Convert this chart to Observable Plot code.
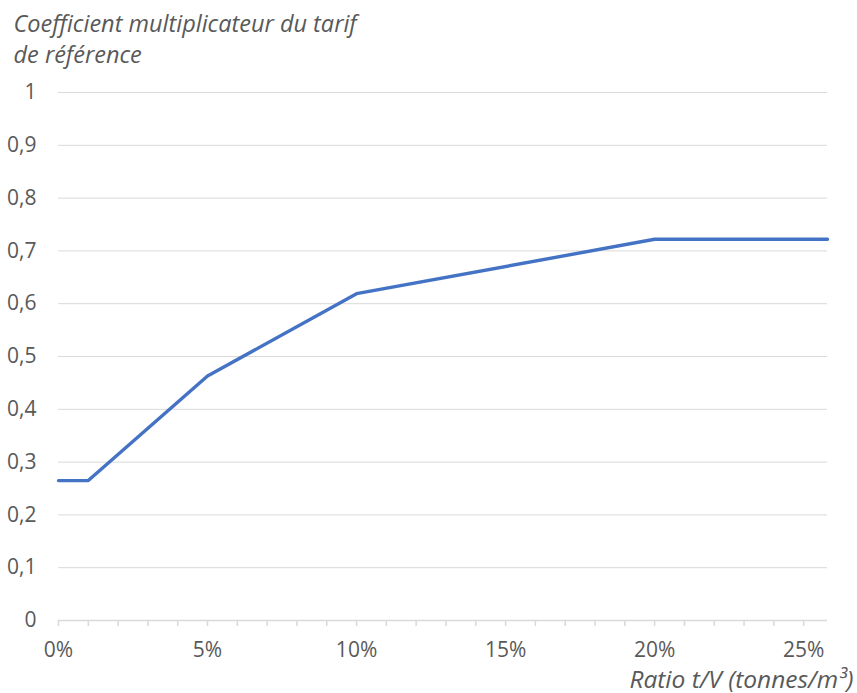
<!DOCTYPE html>
<html><head><meta charset="utf-8">
<script src="https://cdn.jsdelivr.net/npm/d3@7"></script>
<script src="https://cdn.jsdelivr.net/npm/@observablehq/plot@0.6"></script>
<style>body{margin:0;background:#fff;} svg{display:block}</style>
</head><body><div id="chart"></div>
<script>
const ratio = [0, 0.01, 0.05, 0.10, 0.20, 0.258];
const coef = [0.265, 0.265, 0.463, 0.619, 0.722, 0.722];
const xMajorTicks = [0, 0.05, 0.10, 0.15, 0.20, 0.25];
const xTickLabels = ["0%", "5%", "10%", "15%", "20%", "25%"];
const xMinorTicks = [0, 0.01, 0.02, 0.03, 0.04, 0.05, 0.06, 0.07, 0.08, 0.09, 0.10, 0.11, 0.12, 0.13, 0.14, 0.15, 0.16, 0.17, 0.18, 0.19, 0.20, 0.21, 0.22, 0.23, 0.24, 0.25];
const yTicks = [0, 0.1, 0.2, 0.3, 0.4, 0.5, 0.6, 0.7, 0.8, 0.9, 1];
const yTickLabels = ["0", "0,1", "0,2", "0,3", "0,4", "0,5", "0,6", "0,7", "0,8", "0,9", "1"];
const yTitle = ["Coefficient multiplicateur du tarif", "de référence"];
const xTitle = "Ratio t/V (tonnes/m³)";

const data = ratio.map((r, i) => ({ratio: r, coef: coef[i]}));
const grey = "#d9d9d9";
const textColor = "#595959";

const chart = Plot.plot({
  width: 857,
  height: 693,
  marginLeft: 58,
  marginRight: 30,
  marginTop: 92,
  marginBottom: 73,
  style: {fontFamily: "'Open Sans', sans-serif", fontSize: "21px", color: textColor, background: "#fff"},
  x: {domain: [0, 0.258]},
  y: {domain: [0, 1]},
  marks: [
    Plot.ruleY(yTicks.filter(d => d > 0), {stroke: grey, strokeWidth: 1}),
    Plot.ruleY([0], {stroke: grey, strokeWidth: 1.5}),
    Plot.axisX(xMinorTicks, {tickSize: 6, stroke: grey, strokeWidth: 1.5, tickFormat: () => "", label: null}),
    Plot.axisX(xMajorTicks, {tickSize: 0, tickPadding: 22, tickFormat: d => xTickLabels[xMajorTicks.indexOf(d)], label: null, fill: textColor, fontSize: 21}),
    Plot.axisY(yTicks, {tickSize: 0, tickPadding: 22, tickFormat: d => yTickLabels[yTicks.indexOf(d)], label: null, fill: textColor, fontSize: 21}),
    Plot.line(data, {x: "ratio", y: "coef", stroke: "#4472C4", strokeWidth: 3.4, strokeLinejoin: "round", strokeLinecap: "round"}),
    Plot.text([yTitle[0]], {frameAnchor: "top-left", dx: -45, dy: -61, text: d => d, textAnchor: "start", lineAnchor: "bottom", fontStyle: "italic", fontSize: 23.5, fill: textColor}),
    Plot.text([yTitle[1]], {frameAnchor: "top-left", dx: -45, dy: -30, text: d => d, textAnchor: "start", lineAnchor: "bottom", fontStyle: "italic", fontSize: 23.5, fill: textColor}),
    Plot.text([xTitle], {frameAnchor: "bottom-right", dx: 26, dy: 67, text: d => d, textAnchor: "end", lineAnchor: "bottom", fontStyle: "italic", fontSize: 24.5, fill: textColor})
  ]
});
document.getElementById("chart").appendChild(chart);
</script>
</body></html>
